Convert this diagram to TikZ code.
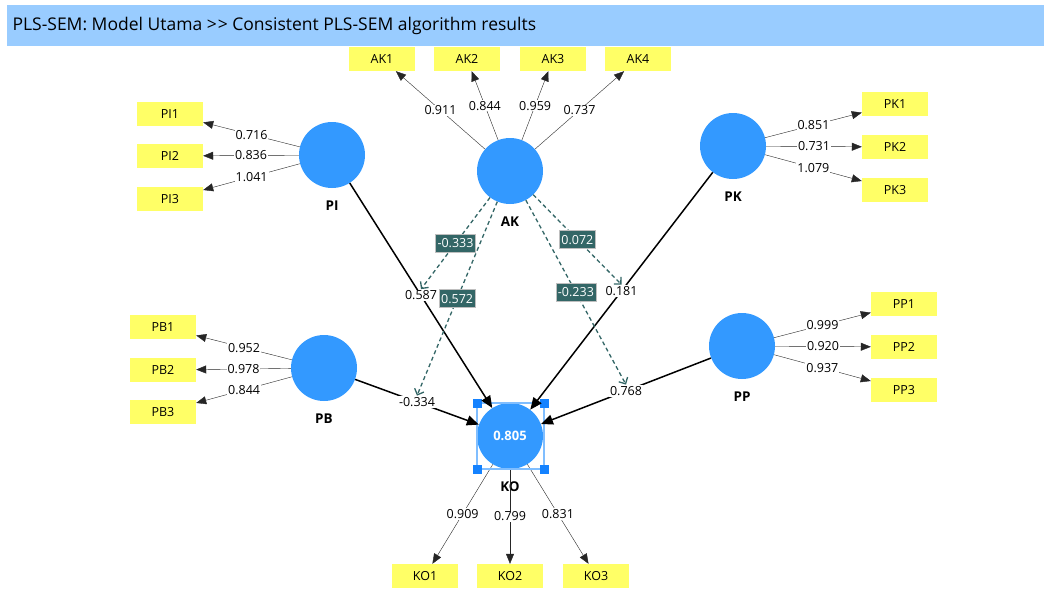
\documentclass[tikz,border=0pt]{standalone}
\usepackage{fontspec}
\setmainfont{Open Sans}
\usetikzlibrary{arrows.meta,positioning}

\definecolor{latentblue}{RGB}{51,153,255}
\definecolor{itemyellow}{RGB}{255,255,102}
\definecolor{titleblue}{RGB}{153,204,255}
\definecolor{modteal}{RGB}{51,102,102}
\definecolor{selblue}{RGB}{128,190,255}
\definecolor{handleblue}{RGB}{20,130,255}

\begin{document}
\begin{tikzpicture}[x=1pt, y=-1pt, font=\fontsize{12.5}{14}\selectfont]
    % Set up styles for the model
    \tikzstyle{latent} = [circle,fill=latentblue,minimum size=66pt,inner sep=0pt]
    \tikzstyle{item} = [fill=itemyellow,minimum width=66pt,minimum height=24pt,inner sep=0pt]
    \tikzstyle{lvname} = [font=\fontsize{13.5}{15}\selectfont\bfseries,below=9pt]
    \tikzstyle{loading} = [-{Triangle[length=10pt,width=8pt]},black!85,thin]
    \tikzstyle{effect} = [-{Triangle[length=12pt,width=10pt]},line width=1.5pt]
    \tikzstyle{moderation} = [-{Straight Barb[length=5pt,width=10pt]},modteal,line width=1.3pt,dash pattern=on 4pt off 3pt]
    \tikzstyle{coef} = [midway,fill=white,inner sep=1pt,text=black]
    \tikzstyle{modcoef} = [midway,solid,fill=modteal,draw=black!25,thin,text=white,inner sep=2pt,minimum height=18pt]

    \useasboundingbox (0,0) rectangle (1044,590);

    % Draw the title bar
    \fill[titleblue] (7,5) rectangle (1044,46);
    \node[anchor=west, font=\fontsize{17.5}{20}\selectfont] (title) at (9,26)
        {PLS-SEM: Model Utama {>}\kern1pt{>} Consistent PLS-SEM algorithm results};

    % Draw the latent variables
    \node[latent] (ak) at (510,171) {};
    \node[latent] (pi) at (332,155) {};
    \node[latent] (pk) at (733,146) {};
    \node[latent] (pb) at (324,368) {};
    \node[latent] (pp) at (742,346) {};
    \node[latent, text=white, font=\fontsize{13}{15}\selectfont\bfseries] (ko) at (510,436) {0.805};

    \node[lvname] at (ak.south) {AK};
    \node[lvname] at (pi.south) {PI};
    \node[lvname] at (pk.south) {PK};
    \node[lvname] at (pb.south) {PB};
    \node[lvname] at (pp.south) {PP};
    \node[lvname] at (ko.south) {KO};

    % Draw the indicators
    \node[item] (ak1) at (382,59) {AK1};
    \node[item] (ak2) at (467,59) {AK2};
    \node[item] (ak3) at (553,59) {AK3};
    \node[item] (ak4) at (638,59) {AK4};
    \node[item] (pi1) at (170,114) {PI1};
    \node[item] (pi2) at (170,156) {PI2};
    \node[item] (pi3) at (170,199) {PI3};
    \node[item] (pk1) at (895,104) {PK1};
    \node[item] (pk2) at (895,147) {PK2};
    \node[item] (pk3) at (895,190) {PK3};
    \node[item] (pb1) at (163,327) {PB1};
    \node[item] (pb2) at (163,370) {PB2};
    \node[item] (pb3) at (163,412) {PB3};
    \node[item] (pp1) at (904,304) {PP1};
    \node[item] (pp2) at (904,347) {PP2};
    \node[item] (pp3) at (904,390) {PP3};
    \node[item] (ko1) at (425,576) {KO1};
    \node[item] (ko2) at (510,576) {KO2};
    \node[item] (ko3) at (596,576) {KO3};

    % Draw the outer loadings
    \draw[loading] (ak) -- (ak1) node[coef] {0.911};
    \draw[loading] (ak) -- (ak2) node[coef] {0.844};
    \draw[loading] (ak) -- (ak3) node[coef] {0.959};
    \draw[loading] (ak) -- (ak4) node[coef] {0.737};
    \draw[loading] (pi) -- (pi1) node[coef] {0.716};
    \draw[loading] (pi) -- (pi2) node[coef] {0.836};
    \draw[loading] (pi) -- (pi3) node[coef] {1.041};
    \draw[loading] (pk) -- (pk1) node[coef] {0.851};
    \draw[loading] (pk) -- (pk2) node[coef] {0.731};
    \draw[loading] (pk) -- (pk3) node[coef] {1.079};
    \draw[loading] (pb) -- (pb1) node[coef] {0.952};
    \draw[loading] (pb) -- (pb2) node[coef] {0.978};
    \draw[loading] (pb) -- (pb3) node[coef] {0.844};
    \draw[loading] (pp) -- (pp1) node[coef] {0.999};
    \draw[loading] (pp) -- (pp2) node[coef] {0.920};
    \draw[loading] (pp) -- (pp3) node[coef] {0.937};
    \draw[loading] (ko) -- (ko1) node[coef] {0.909};
    \draw[loading] (ko) -- (ko2) node[coef] {0.799};
    \draw[loading] (ko) -- (ko3) node[coef] {0.831};

    % Mark the selected construct
    \draw[selblue, line width=1.5pt] (477,403) rectangle (544,469);
    \foreach \cx/\cy in {477/403, 544/403, 477/469, 544/469}
        \fill[handleblue] (\cx-4.5,\cy-4.5) rectangle (\cx+4.5,\cy+4.5);

    % Draw the path coefficients
    \draw[effect] (pi) -- (ko) node[coef] (lpi) {0.587};
    \draw[effect] (pk) -- (ko) node[coef] (lpk) {0.181};
    \draw[effect] (pb) -- (ko) node[coef] (lpb) {-0.334};
    \draw[effect] (pp) -- (ko) node[coef] (lpp) {0.768};

    % Draw the moderating effects of AK
    \draw[moderation] (ak) -- (lpi.north) node[modcoef] {-0.333};
    \draw[moderation] (ak) -- (lpb.north) node[modcoef] {0.572};
    \draw[moderation] (ak) -- (lpk.north) node[modcoef] {0.072};
    \draw[moderation] (ak) -- (lpp.north) node[modcoef] {-0.233};

\end{tikzpicture}
\end{document}
